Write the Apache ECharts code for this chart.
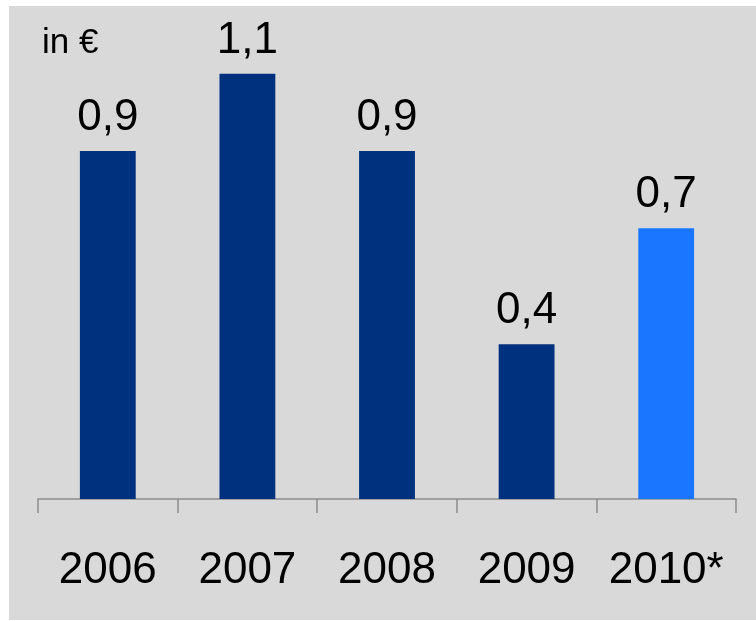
<!DOCTYPE html>
<html>
<head>
<meta charset="utf-8">
<script src="https://cdn.jsdelivr.net/npm/echarts@6/dist/echarts.min.js"></script>
<style>
    body { margin: 0; background: #ffffff; }
    #bg { position: absolute; left: 9px; top: 6px; width: 747px; height: 614px; background: #d9d9d9; }
    #chart { position: absolute; left: 0; top: 0; width: 756px; height: 621px; }
</style>
</head>
<body>
<div id="bg"></div>
<div id="chart"></div>
<script>
    var years = ['2006', '2007', '2008', '2009', '2010*'];
    var values = [0.9, 1.1, 0.9, 0.4, 0.7];
    var barColors = ['#00317f', '#00317f', '#00317f', '#00317f', '#1a75ff'];
    var unitLabel = 'in €';

    var font = "'Liberation Sans Narrow', 'Arial Narrow', 'Liberation Sans', Arial, sans-serif";

    var chart = echarts.init(document.getElementById('chart'));

    var option = {
        animation: false,
        backgroundColor: 'transparent',
        grid: { left: 38, right: 20, top: 35, bottom: 122 },
        graphic: [{
            type: 'text',
            left: 42,
            top: 26,
            style: { text: unitLabel, fontSize: 35, fontFamily: font, fill: '#000' }
        }],
        xAxis: {
            type: 'category',
            data: years,
            axisLine: { lineStyle: { color: '#8c8c8c', width: 1.5 } },
            axisTick: { show: true, length: 14, alignWithLabel: false, lineStyle: { color: '#8c8c8c', width: 1.5 } },
            axisLabel: { interval: 0, fontSize: 44, fontFamily: font, color: '#000', margin: 50 }
        },
        yAxis: {
            type: 'value',
            min: 0,
            max: 1.2,
            show: false,
            splitLine: { show: false }
        },
        series: [{
            type: 'bar',
            barWidth: '40%',
            data: values.map(function (v, i) {
                return { value: v, itemStyle: { color: barColors[i] } };
            }),
            label: {
                show: true,
                position: 'top',
                distance: 11,
                fontSize: 44,
                fontFamily: font,
                color: '#000',
                formatter: function (p) { return String(p.value).replace('.', ','); }
            }
        }]
    };

    chart.setOption(option);
</script>
</body>
</html>
